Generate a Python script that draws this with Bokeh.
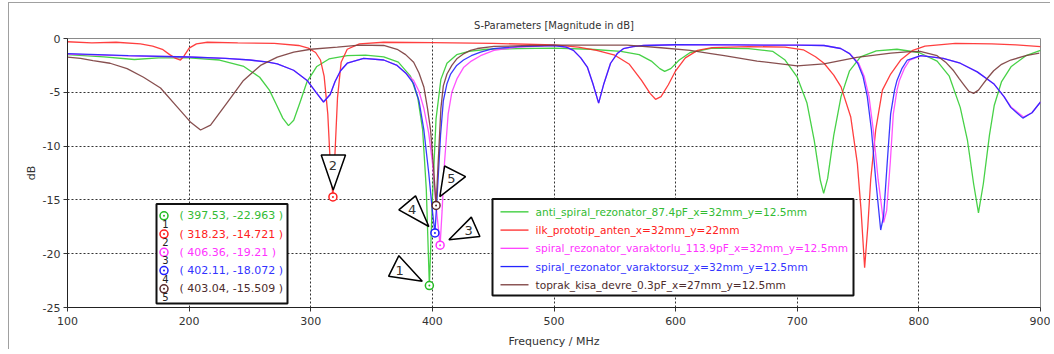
from bokeh.plotting import figure
from bokeh.models import Range1d, FixedTicker, BoxAnnotation
from bokeh.core.properties import value
from bokeh.embed import file_html
from bokeh.resources import INLINE

# ---------------- data ----------------
series_names = [
    "anti_spiral_rezonator_87.4pF_x=32mm_y=12.5mm",
    "ilk_prototip_anten_x=32mm_y=22mm",
    "spiral_rezonator_varaktorlu_113.9pF_x=32mm_y=12.5mm",
    "spiral_rezonator_varaktorsuz_x=32mm_y=12.5mm",
    "toprak_kisa_devre_0.3pF_x=27mm_y=12.5mm",
]
line_colors = ["#33cc33", "#ff2a2a", "#ff40ff", "#2424ff", "#7a3c3c"]
text_colors = ["#33bb33", "#ff2020", "#ff33ff", "#3333ff", "#4d2c2c"]

green_f = [100, 130, 155, 175, 200, 225, 245, 258, 266, 272, 277, 281.7, 286, 291, 297, 305, 315, 330,
           345, 360, 372, 382, 388, 392, 395, 397.53, 400, 403, 407, 412, 420, 430, 445, 470, 500, 530,
           555, 570, 580, 587, 591, 596, 603, 612, 630, 660, 680, 690, 700, 708, 714, 719, 721.7, 725,
           730, 736, 743, 752, 765, 782, 800, 815, 825, 834, 840, 845, 849, 853, 858, 862, 868, 876, 888, 900]
green_db = [-1.5, -1.7, -1.95, -1.8, -1.8, -2.0, -2.6, -3.6, -4.8, -6.2, -7.4, -8.1, -7.6, -6.0, -4.0, -2.6,
            -1.9, -1.6, -1.55, -1.7, -2.2, -3.5, -5.5, -8.5, -14.0, -22.963, -15.0, -7.5, -3.8, -2.3, -1.5,
            -1.2, -1.0, -0.95, -0.9, -1.0, -1.2, -1.5, -2.1, -2.8, -3.05, -2.8, -2.0, -1.3, -0.9, -0.95, -1.2,
            -2.0, -3.6, -6.0, -9.5, -13.2, -14.4, -13.0, -9.0, -5.4, -3.0, -1.7, -1.15, -1.0, -1.3, -2.1,
            -3.5, -6.4, -9.5, -13.5, -16.2, -13.5, -9.0, -6.2, -4.0, -2.6, -1.6, -1.1]

red_f = [100, 120, 140, 160, 170, 178, 184, 189, 192.9, 196, 200, 206, 215, 240, 270, 290, 298, 304, 308,
         311, 314, 316, 318.23, 320, 322, 325, 330, 340, 360, 400, 450, 500, 520, 535, 550, 562, 572, 579,
         583.5, 588, 594, 600, 608, 618, 630, 660, 690, 705, 715, 722, 730, 736, 744, 749.4, 752.5, 755.4,
         758, 760.4, 764.5, 770, 776.8, 785, 795, 805, 830, 860, 880, 900]
red_db = [-0.3, -0.4, -0.35, -0.5, -0.7, -1.0, -1.5, -1.85, -2.0, -1.6, -0.9, -0.5, -0.35, -0.4, -0.45,
          -0.65, -0.9, -1.3, -2.0, -3.5, -7.0, -11.5, -14.721, -10.5, -5.5, -2.2, -1.0, -0.5, -0.35, -0.38,
          -0.45, -0.6, -0.8, -1.1, -1.55, -2.4, -3.9, -5.1, -5.65, -5.4, -4.3, -3.0, -1.8, -1.1, -0.85,
          -0.75, -0.8, -1.05, -1.7, -2.3, -3.4, -4.5, -7.3, -11.6, -16.0, -21.3, -17.5, -13.1, -8.5, -4.8,
          -3.3, -2.0, -1.1, -0.7, -0.45, -0.5, -0.6, -0.75]

magenta_f = [100, 150, 200, 230, 250, 265, 272.5, 285.9, 297, 305, 310.5, 316, 320, 324.5, 330, 343.5,
             360, 371, 378, 384.6, 389, 393, 397, 400, 403, 406.36, 408, 410, 413, 416, 420.4, 425.6, 432,
             439.6, 450.6, 470, 500, 510, 516, 522, 527.4, 532, 536.7, 541, 546.5, 552, 557, 565, 573.7,
             600, 650, 700, 722, 735.7, 743, 750.5, 755, 759, 762.5, 766.5, 771, 773.5, 776.5, 779,
             782, 784, 788, 792.5, 802, 820, 834, 848, 861.5, 870, 876, 886, 893, 900]
magenta_db = [-1.45, -1.62, -1.72, -1.85, -2.0, -2.2, -2.35, -2.95, -3.9, -5.1, -5.9, -5.2, -4.0, -3.0,
              -2.3, -1.85, -2.0, -2.5, -3.2, -3.9, -4.9, -6.5, -8.8, -11.5, -15.5, -19.21, -16.0, -11.5,
              -7.0, -5.0, -3.7, -2.7, -2.1, -1.6, -1.1, -0.8, -0.66, -0.8, -1.1, -1.8, -2.65, -4.2, -6.0,
              -4.2, -2.3, -1.4, -0.95, -0.75, -0.65, -0.58, -0.6, -0.62, -0.65, -0.93, -1.4, -2.3, -3.5,
              -5.4, -8.5, -13.1, -17.1, -16.0, -11.5, -7.0, -4.8, -3.9, -2.8, -2.0, -1.6, -1.85, -2.3,
              -3.1, -4.2, -5.4, -6.4, -7.3, -6.9, -5.9]

blue_f = [100, 150, 200, 230, 250, 265, 272.5, 285.9, 297, 305, 310.5, 316, 320, 324.5, 330, 343.5, 360,
          371, 378, 384.6, 389, 393, 397, 400, 402.11, 404, 406.7, 409, 412, 415, 420, 425.6, 432, 439.6,
          450, 470, 500, 510, 516, 522, 527.4, 532, 536.7, 541, 546.5, 552, 557, 565, 573.7, 600, 650,
          700, 722, 735.7, 743, 749.7, 754, 757.6, 761, 764.5, 768.6, 771, 774, 776.8, 780, 782, 786,
          790.5, 801.4, 820, 834, 848, 861.5, 870, 875.5, 885.5, 893, 900]
blue_db = [-1.4, -1.6, -1.72, -1.85, -2.0, -2.2, -2.35, -2.95, -3.9, -5.1, -5.9, -5.2, -4.0, -3.0, -2.3,
           -1.85, -2.0, -2.5, -3.2, -4.2, -5.8, -8.5, -12.5, -16.0, -18.072, -14.5, -9.0, -5.8, -4.2, -3.3,
           -2.5, -2.0, -1.6, -1.27, -0.95, -0.75, -0.65, -0.8, -1.1, -1.8, -2.65, -4.2, -6.0, -4.2, -2.3,
           -1.4, -0.95, -0.75, -0.65, -0.58, -0.6, -0.62, -0.65, -0.93, -1.4, -2.3, -3.5, -5.4, -8.5,
           -13.1, -17.8, -16.5, -11.5, -7.0, -4.8, -3.9, -2.8, -2.0, -1.6, -1.85, -2.3, -3.1, -4.2, -5.4,
           -6.4, -7.4, -6.9, -5.9]

brown_f = [100, 110.7, 121, 135, 149, 162.5, 176.5, 190.5, 201, 209.4, 217.6, 231, 244.7, 258.7, 272.5,
           286, 300, 321.8, 340, 360, 371, 378, 384.6, 389, 393, 396, 398.5, 401, 403.04, 405, 407, 409,
           412, 416, 420.4, 426, 431.4, 437, 450.6, 480, 505, 560, 588, 612, 629, 640, 667, 700, 722, 749,
           777, 790, 801, 815, 822, 828.6, 833, 837, 841, 845, 849, 853, 857, 861.5, 868, 875.5, 888, 899]
brown_db = [-1.73, -1.85, -2.05, -2.3, -2.8, -3.6, -4.6, -6.4, -7.75, -8.5, -8.05, -6.0, -3.9, -2.5, -1.73,
            -1.27, -1.0, -0.8, -0.62, -0.65, -1.0, -1.5, -2.2, -3.2, -4.5, -6.5, -8.5, -12.0, -15.509, -11.0,
            -6.5, -4.4, -3.3, -2.5, -1.85, -1.4, -1.1, -0.93, -0.74, -0.65, -0.62, -0.62, -0.86, -1.1, -1.4,
            -1.6, -2.1, -2.55, -2.35, -1.75, -1.35, -1.25, -1.2, -1.6, -2.2, -3.0, -3.7, -4.3, -4.9, -5.1,
            -4.8, -4.2, -3.6, -3.0, -2.4, -2.0, -1.6, -1.35]

# markers (value readouts)
marker_ids = ["1", "2", "3", "4", "5"]
marker_x = [397.53, 318.23, 406.36, 402.11, 403.04]
marker_y = [-22.963, -14.721, -19.21, -18.072, -15.509]
marker_colors = ["#22bb22", "#ff2020", "#ff33ff", "#2020ff", "#5a2a2a"]

x_ticks = [100, 200, 300, 400, 500, 600, 700, 800, 900]
y_ticks = [-25, -20, -15, -10, -5, 0]
y_tick_labels = ["-25", "-20", "-15", "-10", "-5", "0"]

# ---------------- layout ----------------
OX, OY = 9, 3              # canvas origin on the page (margin + border)
W, H = 1042, 347
BL, BR, BT, BB = 58, 11, 35, 42
FW, FH = W - BL - BR, H - BT - BB
XMIN, XMAX, YMIN, YMAX = 100, 900, -25, 0
XS = FW / (XMAX - XMIN)   # px per MHz
YS = FH / (YMAX - YMIN)   # px per dB
PX0, PY0 = OX + BL, OY + BT  # page pixel of frame top-left


def X(px):  # page pixel -> data x
    return XMIN + (px - PX0) / XS


def Y(py):  # page pixel -> data y
    return YMAX - (py - PY0) / YS


p = figure(width=W, height=H, x_range=Range1d(XMIN, XMAX), y_range=Range1d(YMIN, YMAX),
           output_backend="svg", toolbar_location=None,
           min_border_left=BL, min_border_right=BR, min_border_top=BT, min_border_bottom=BB,
           title="S-Parameters [Magnitude in dB]")
p.styles = {"margin-left": "8px", "margin-top": "2px",
            "border-left": "1px solid #a0a0a0", "border-top": "1px solid #a0a0a0"}
p.title.align = "center"
p.title.text_font = "DejaVu Sans"
p.title.text_font_size = "10px"
p.title.text_font_style = "normal"
p.title.text_color = "#333333"
p.title.standoff = 16

p.outline_line_color = "#8a8a8a"
p.background_fill_color = "white"
p.border_fill_color = "white"

p.xaxis.ticker = FixedTicker(ticks=x_ticks)
p.yaxis.ticker = FixedTicker(ticks=y_ticks)
p.yaxis.major_label_overrides = {t: l for t, l in zip(y_ticks, y_tick_labels)}
p.xaxis.axis_label = "Frequency / MHz"
p.yaxis.axis_label = "dB"
for ax in (p.xaxis, p.yaxis):
    ax.axis_line_color = "#222222"
    ax.major_tick_line_color = "#333333"
    ax.major_tick_out = 4
    ax.major_tick_in = 0
    ax.minor_tick_line_color = None
    ax.major_label_text_font = "DejaVu Sans"
    ax.major_label_text_font_size = "11px"
    ax.major_label_text_color = "#333333"
    ax.axis_label_text_font = "DejaVu Sans"
    ax.axis_label_text_font_size = "11px"
    ax.axis_label_text_font_style = "normal"
    ax.axis_label_text_color = "#333333"
    ax.major_label_standoff = 3
p.xaxis.major_label_standoff = 5
p.xaxis.axis_label_standoff = 7
p.yaxis.axis_label_standoff = 2

for g in (p.xgrid, p.ygrid):
    g.grid_line_color = "#333333"
    g.grid_line_dash = "2 2"
    g.grid_line_width = 1
p.xgrid.ticker = FixedTicker(ticks=x_ticks)
p.ygrid.ticker = FixedTicker(ticks=y_ticks)

curves = [(green_f, green_db), (red_f, red_db), (magenta_f, magenta_db), (blue_f, blue_db), (brown_f, brown_db)]
for (f, d), c in zip(curves, line_colors):
    p.line(f, d, line_color=c, line_width=1.3, line_alpha=0.9)

# markers on curves
p.scatter(marker_x, marker_y, marker="circle_dot", size=8, fill_color="white",
          line_color=marker_colors, line_width=1.5)

# triangle callouts (pixel offsets relative to each marker)
tri_offsets = [
    [(-40.8, -9.3), (-30.5, -30.0), (-7.1, -4.3)],
    [(-11.7, -42.0), (12.6, -42.0), (0.3, -7.0)],
    [(8.8, -5.5), (31.2, -28.2), (39.8, -8.8)],
    [(-36.1, -23.2), (-19.4, -37.2), (-6.1, -6.5)],
    [(3.8, -8.8), (8.5, -39.5), (29.5, -28.8)],
]
num_offsets = [(-29.8, -15.3), (0.0, -32.0), (28.5, -14.8), (-22.7, -23.2), (15.2, -27.2)]
txs, tys = [], []
for mx, my, offs in zip(marker_x, marker_y, tri_offsets):
    txs.append([mx + ox / XS for ox, oy in offs])
    tys.append([my - oy / YS for ox, oy in offs])
p.patches(txs, tys, fill_color="white", line_color="black", line_width=1.5)
p.text([mx + ox / XS for mx, (ox, oy) in zip(marker_x, num_offsets)],
       [my - oy / YS for my, (ox, oy) in zip(marker_y, num_offsets)],
       text=marker_ids, text_font=value("DejaVu Sans"), text_font_size="13px",
       text_color="#333333", text_align="center", text_baseline="middle")

# ---- legend box (text coloured per series) ----
leg = BoxAnnotation(left=X(492), right=X(853), top=Y(199), bottom=Y(296), fill_color="white",
                    fill_alpha=1.0, line_color="#111111", line_alpha=1.0, line_width=2,
                    level="annotation")
p.add_layout(leg)
row_px = [212 + 18.3 * i for i in range(5)]
ly = [Y(r) for r in row_px]
p.segment([X(500)] * 5, ly, [X(528)] * 5, ly, line_color=line_colors, line_width=1.3, level="overlay")
p.text([X(535)] * 5, ly, text=series_names, text_color=text_colors, text_font=value("DejaVu Sans"),
       text_font_size="10.6px", text_baseline="middle", level="overlay")

# ---- marker readout box ----
mb = BoxAnnotation(left=X(156), right=X(287), top=Y(204), bottom=Y(304), fill_color="white",
                   fill_alpha=1.0, line_color="#111111", line_alpha=1.0, line_width=2,
                   level="annotation")
p.add_layout(mb)
mrow = [216 + 18.3 * i for i in range(5)]
my_ = [Y(r) for r in mrow]
p.scatter([X(163.5)] * 5, my_, marker="circle_dot", size=8, fill_color="white",
          line_color=marker_colors, line_width=1.5, level="overlay")
p.text([X(165)] * 5, [Y(r + 8) for r in mrow], text=marker_ids, text_color="#222222",
       text_font=value("DejaVu Sans"), text_font_size="10px", text_align="center",
       text_baseline="middle", level="overlay")
readouts = [f"( {mx}, {mv} )" for mx, mv in zip(marker_x, marker_y)]
p.text([X(179)] * 5, my_, text=readouts, text_color=text_colors, text_font=value("DejaVu Sans"),
       text_font_size="11px", text_baseline="middle", level="overlay")

open("out.html", "w").write(file_html(p, INLINE))
